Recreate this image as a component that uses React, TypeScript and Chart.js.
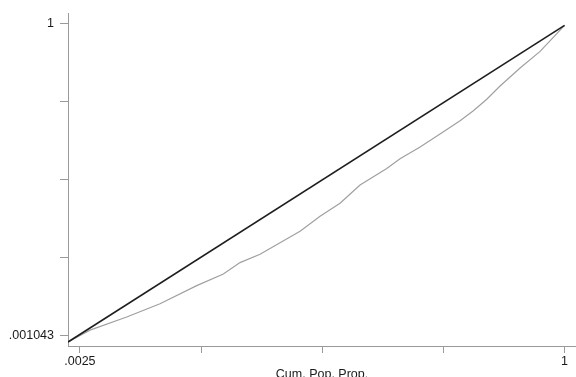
import React, { useEffect, useRef } from "react";
import { Chart, registerables } from "chart.js";

Chart.register(...registerables);

// Lorenz curve: cumulative population share vs cumulative income share
const popShare = [0, 0.0443, 0.1182, 0.1853, 0.2592, 0.3128, 0.3464, 0.3867, 0.427, 0.4673, 0.5076, 0.5478, 0.5881, 0.6419, 0.6687, 0.709, 0.7492, 0.7895, 0.8163, 0.8433, 0.8701, 0.9104, 0.9507, 1.0];
const incomeShare = [0, 0.0375, 0.0791, 0.1209, 0.1781, 0.2147, 0.2509, 0.2772, 0.3134, 0.35, 0.3969, 0.4384, 0.4959, 0.5478, 0.5791, 0.6156, 0.6572, 0.6991, 0.7303, 0.7666, 0.8084, 0.8656, 0.9178, 1.0];
const equality = [0, 1];

const xTickValues = [0.024, 0.268, 0.512, 0.756, 1.0];
const xTickLabels = [".0025", "", "", "", "1"];
const yTickValues = [0.022, 0.268, 0.513, 0.759, 1.005];
const yTickLabels = [".001043", "", "", "", "1"];
const xTitle = "Cum. Pop. Prop.";

export default function App() {
  const ref = useRef<HTMLCanvasElement | null>(null);
  useEffect(() => {
    if (!ref.current) return;
    const font = { family: "'Liberation Sans', Arial, sans-serif", size: 12.5 };
    const chart = new Chart(ref.current, {
      type: "line",
      data: {
        datasets: [
          {
            label: "Lorenz",
            data: popShare.map((x, i) => ({ x, y: incomeShare[i] })),
            borderColor: "#a0a0a0",
            borderWidth: 1.2,
            pointRadius: 0,
            tension: 0,
            order: 2,
          },
          {
            label: "Equality",
            data: equality.map((v) => ({ x: v, y: v })),
            borderColor: "#1e1e1e",
            borderWidth: 1.6,
            pointRadius: 0,
            order: 1,
          },
        ],
      },
      options: {
        animation: false,
        responsive: false,
        maintainAspectRatio: false,
        layout: { padding: { top: 10, right: 0, left: 0, bottom: 0 } },
        plugins: { legend: { display: false }, tooltip: { enabled: false } },
        scales: {
          x: {
            type: "linear",
            min: 0,
            max: 1.023,
            afterBuildTicks: (s: any) => {
              s.ticks = xTickValues.map((v) => ({ value: v }));
            },
            afterFit: (s: any) => {
              s.height = 31;
            },
            ticks: {
              autoSkip: false,
              maxRotation: 0,
              padding: 1,
              color: "#1a1a1a",
              font,
              callback: (_v: any, i: number) => xTickLabels[i],
            },
            grid: { drawOnChartArea: false, drawTicks: true, tickLength: 7, color: "#9a9a9a" },
            border: { display: true, color: "#9a9a9a", width: 1 },
            title: { display: true, text: xTitle, color: "#1a1a1a", font, padding: { top: 0, bottom: -5 } },
          },
          y: {
            type: "linear",
            min: -0.0125,
            max: 1.0375,
            afterBuildTicks: (s: any) => {
              s.ticks = yTickValues.map((v) => ({ value: v }));
            },
            afterFit: (s: any) => {
              s.width = 68;
            },
            ticks: {
              autoSkip: false,
              padding: 6,
              color: "#1a1a1a",
              font,
              callback: (_v: any, i: number) => yTickLabels[i],
            },
            grid: { drawOnChartArea: false, drawTicks: true, tickLength: 8, color: "#9a9a9a" },
            border: { display: true, color: "#9a9a9a", width: 1 },
          },
        },
      },
    });
    return () => chart.destroy();
  }, []);
  return (
    <div style={{ position: "fixed", left: 0, top: 0, width: 576, height: 377, background: "#fff" }}>
      <canvas ref={ref} width={576} height={377} style={{ width: 576, height: 377 }} />
    </div>
  );
}
